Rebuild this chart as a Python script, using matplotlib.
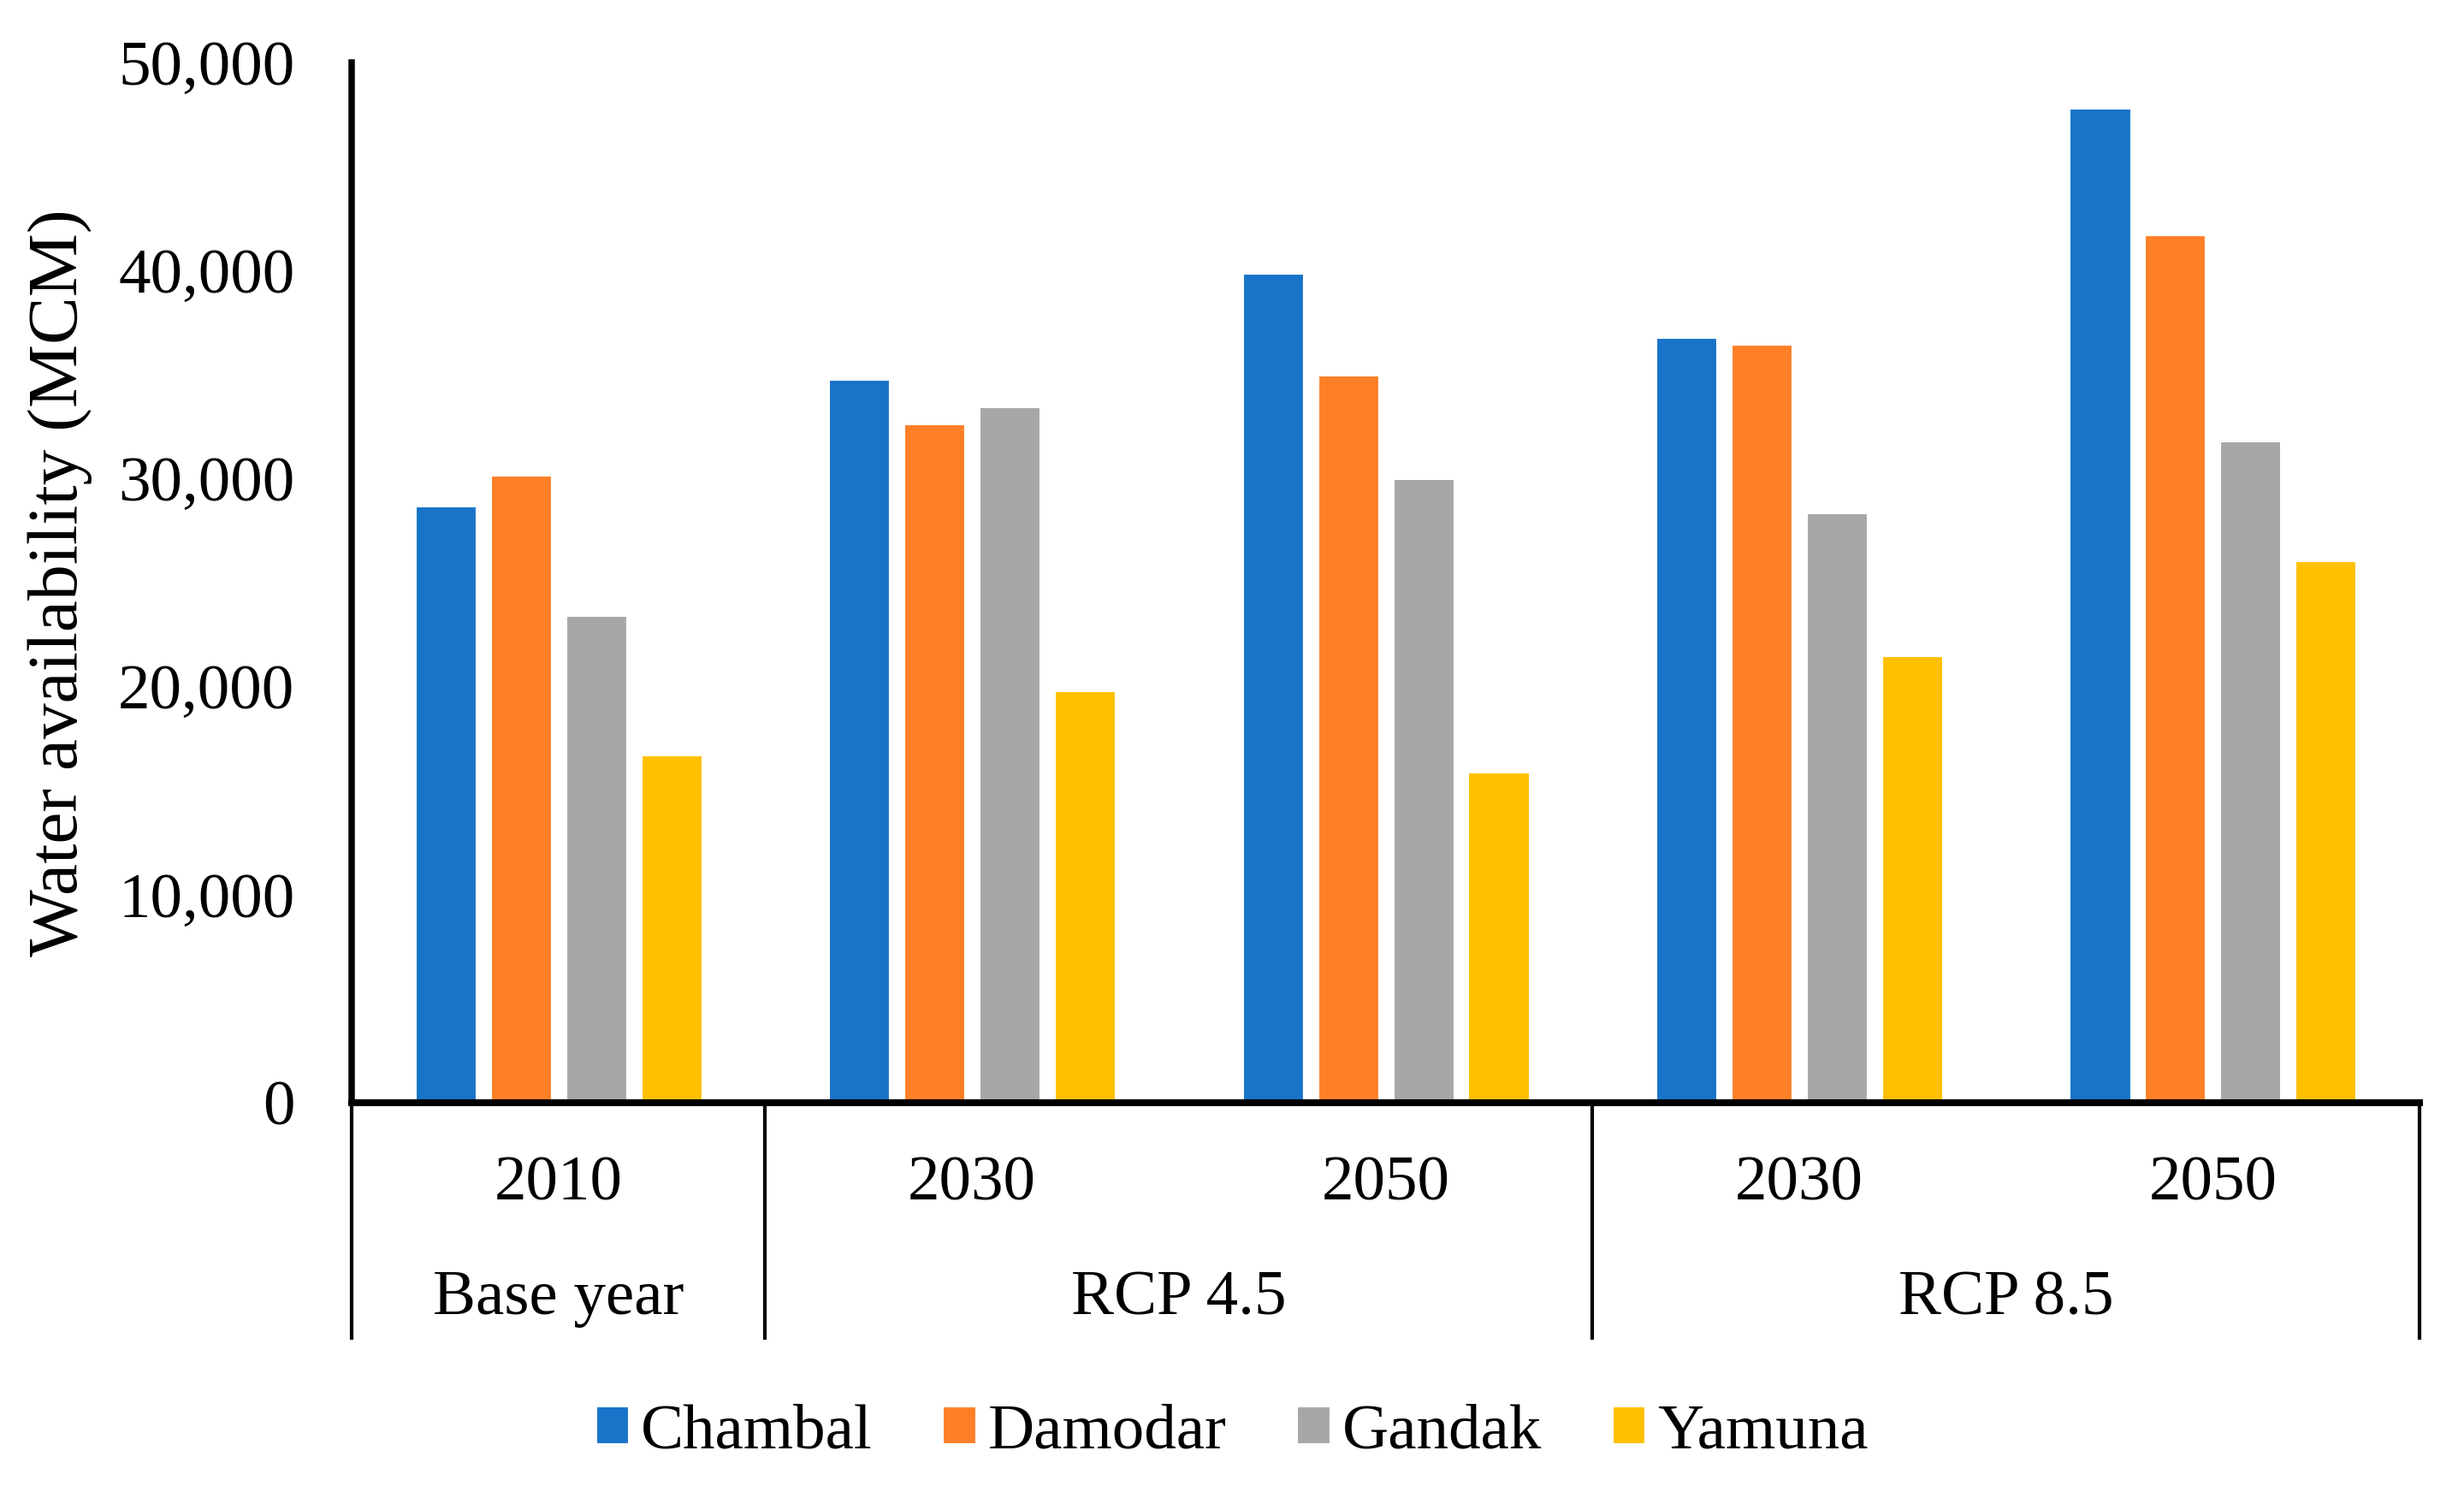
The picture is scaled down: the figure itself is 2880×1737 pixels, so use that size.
import matplotlib
matplotlib.use("Agg")
import matplotlib.pyplot as plt
import numpy as np

plt.rcParams['font.family'] = ['Liberation Serif', 'DejaVu Serif']

years = ["2010", "2030", "2050", "2030", "2050"]
scenarios = ["Base year", "RCP 4.5", "RCP 8.5"]
scenario_spans = [(0, 0), (1, 2), (3, 4)]
rivers = ["Chambal", "Damodar", "Gandak", "Yamuna"]
chambal = [28650, 34750, 39860, 36750, 47760]
damodar = [30140, 32600, 34940, 36420, 41680]
gandak = [23390, 33440, 29980, 28330, 31790]
yamuna = [16670, 19780, 15850, 21460, 26040]
colors = ["#1874C8", "#FF7F27", "#A7A7A7", "#FFC000"]
yticks = [0, 10000, 20000, 30000, 40000, 50000]

FS = 27

fig = plt.figure(figsize=(14.4, 8.685), dpi=200)
ax = fig.add_axes([0.1427, 0.258, 0.8393, 0.700])

x = np.arange(len(years))
pitch = 0.182
width = 0.145
series = [chambal, damodar, gandak, yamuna]
for i, (vals, c, name) in enumerate(zip(series, colors, rivers)):
    ax.bar(x + (i - 1.5) * pitch, vals, width=width, color=c, label=name,
           edgecolor='white', linewidth=0.4, zorder=2)

ax.set_xlim(-0.5, len(years) - 0.5)
ax.set_ylim(0, 50000)
ax.set_yticks(yticks)
ax.set_yticklabels([f"{v:,}" for v in yticks], fontsize=FS)
ax.tick_params(axis='y', length=0, pad=24)
ax.set_xticks([])

fig.text(70 / 2880, 1 - 681 / 1737, "Water availability (MCM)", rotation=90,
         ha='center', va='center', fontsize=30)

for s in ['top', 'right']:
    ax.spines[s].set_visible(False)
ax.spines['left'].set_linewidth(2.7)
ax.spines['bottom'].set_linewidth(2.9)
ax.spines['left'].set_zorder(3)
ax.spines['bottom'].set_zorder(3)

trans = ax.get_xaxis_transform()
# category table lines
for xs in [-0.5, 0.5, 2.5, 4.5]:
    ax.plot([xs, xs], [0, -0.228], transform=trans, color='black',
            lw=1.5, clip_on=False, solid_capstyle='butt')

for xi, yr in zip(x, years):
    ax.text(xi, -0.079, yr, transform=trans, ha='center', va='center', fontsize=FS)

for name, (a, b) in zip(scenarios, scenario_spans):
    ax.text((a + b) / 2, -0.189, name, transform=trans, ha='center', va='center', fontsize=FS)

fig.legend(loc='center', bbox_to_anchor=(0.5, 0.036), ncol=4, frameon=False,
           fontsize=FS, handlelength=0.5, handleheight=0.5, handletextpad=0.2,
           columnspacing=1.1)

fig.savefig("out.png", dpi=200, facecolor='white')
